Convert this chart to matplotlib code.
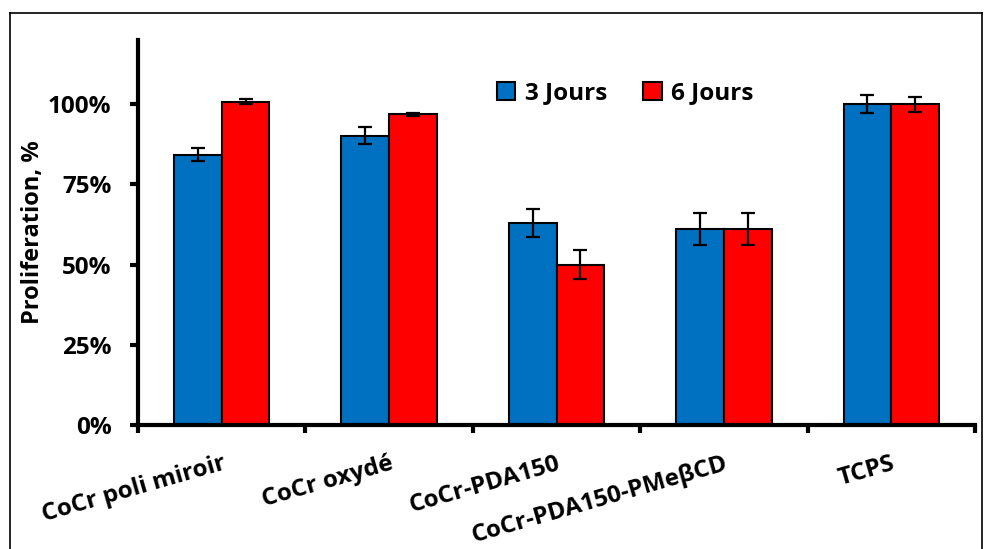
import numpy as np
import matplotlib
matplotlib.use('Agg')
import matplotlib.pyplot as plt
from matplotlib.lines import Line2D
from matplotlib.ticker import FuncFormatter

# data
categories = ['CoCr poli miroir', 'CoCr oxydé', 'CoCr-PDA150', 'CoCr-PDA150-PMeβCD', 'TCPS']
jours3 = [84.3, 90.2, 63.0, 61.2, 100.0]
jours3_err = [2.0, 2.6, 4.4, 5.0, 2.9]
jours6 = [100.8, 96.8, 50.0, 61.2, 100.0]
jours6_err = [0.8, 0.6, 4.4, 5.0, 2.3]
series_names = ['3 Jours', '6 Jours']

plt.rcParams['font.family'] = ['Open Sans', 'DejaVu Sans']
plt.rcParams['font.weight'] = 'bold'

fig = plt.figure(figsize=(9.84, 5.49), dpi=100)
ax = fig.add_axes([0.1402, 0.2259, 0.8507, 0.7012])

x = np.arange(len(categories))
w = 0.285
err_kw = dict(ecolor='black', elinewidth=1.6, capsize=5, capthick=1.6)
ax.bar(x - w / 2, jours3, w, yerr=jours3_err, color='#0070C0', edgecolor='black',
       linewidth=1.5, label=series_names[0], error_kw=err_kw, zorder=2)
ax.bar(x + w / 2, jours6, w, yerr=jours6_err, color='#FF0000', edgecolor='black',
       linewidth=1.5, label=series_names[1], error_kw=err_kw, zorder=2)

ax.set_xlim(-0.5, len(categories) - 0.5)
ax.set_ylim(0, 120)

for s in ['top', 'right']:
    ax.spines[s].set_visible(False)
for s in ['left', 'bottom']:
    ax.spines[s].set_linewidth(3)

ax.set_yticks([0, 25, 50, 75, 100])
ax.yaxis.set_major_formatter(FuncFormatter(lambda v, p: '%d%%' % v))
ax.tick_params(axis='y', length=6, width=3, pad=13, labelsize=17.5)

# tick marks between categories, labels at the centres
ax.set_xticks(np.arange(len(categories) + 1) - 0.5)
ax.set_xticklabels([])
ax.set_xticks(x, minor=True)
ax.set_xticklabels(categories, minor=True, rotation=16, ha='right',
                   rotation_mode='anchor', fontsize=17.5, fontweight='bold')
ax.tick_params(axis='x', which='major', length=6, width=3)
ax.tick_params(axis='x', which='minor', length=0, pad=19)

ax.set_ylabel('Proliferation, %', fontsize=17, fontweight='bold', labelpad=2)

ax.legend(loc='center', bbox_to_anchor=(0.582, 0.862), ncol=2, frameon=False,
          fontsize=17.5, handlelength=0.75, handleheight=0.75, columnspacing=1.5,
          handletextpad=0.4)

# outer frame of the figure
fig.add_artist(Line2D([0.0102, 0.0102], [0, 0.976], color='black', lw=1.2))
fig.add_artist(Line2D([0.0102, 0.998], [0.976, 0.976], color='black', lw=1.2))
fig.add_artist(Line2D([0.998, 0.998], [0, 0.976], color='black', lw=1.2))

plt.savefig('out.png', dpi=100)
